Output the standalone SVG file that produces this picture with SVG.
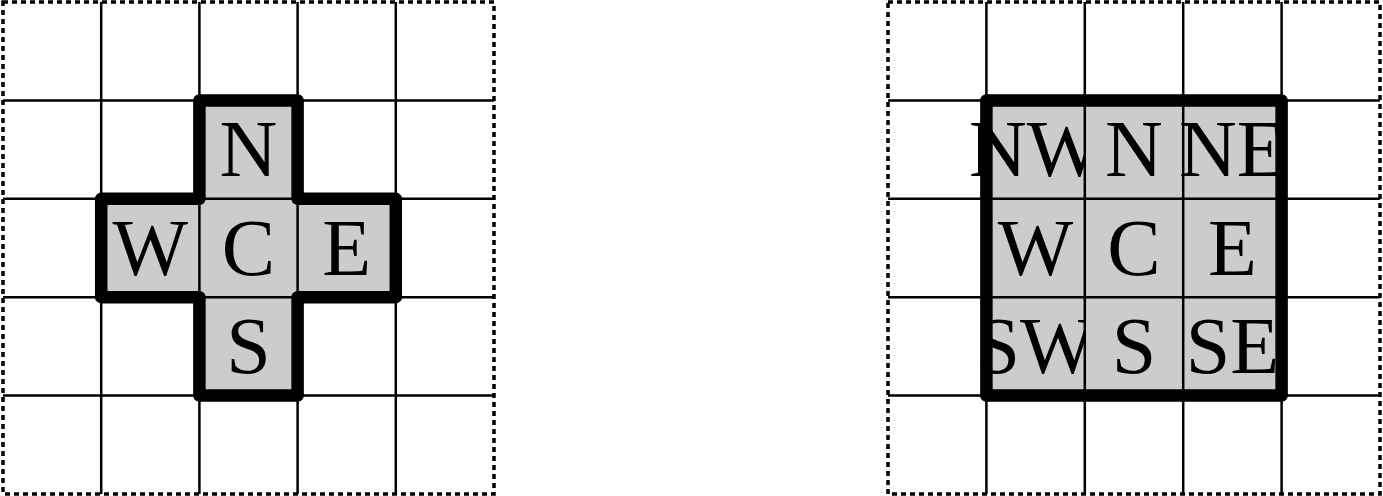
<svg xmlns="http://www.w3.org/2000/svg" width="1383" height="496" viewBox="0 0 1383 496">
<style>
.cell{fill:#cccccc;stroke:none}
.lbl{font-family:"Liberation Serif","Times New Roman",serif;font-size:80px;fill:#000;text-anchor:middle}
.grid{stroke:#000;stroke-width:2.5;fill:none}
.outer{stroke:#000;stroke-width:3.5;fill:none;stroke-dasharray:5 4}
.thick{stroke:#000;stroke-width:12.5;fill:none;stroke-linejoin:round}
</style>
<rect width="1383" height="496" fill="#fff"/>
<!-- Left: 4-neighbourhood -->
<g id="left">
<g id="L-N"><rect class="cell" x="199.4" y="100.4" width="98.2" height="98.4"/><text class="lbl" x="248.5" y="176">N</text></g>
<g id="L-W"><rect class="cell" x="101.2" y="198.8" width="98.2" height="98.4"/><text class="lbl" x="150.3" y="274.5">W</text></g>
<g id="L-C"><rect class="cell" x="199.4" y="198.8" width="98.2" height="98.4"/><text class="lbl" x="248.5" y="274.5">C</text></g>
<g id="L-E"><rect class="cell" x="297.6" y="198.8" width="98.2" height="98.4"/><text class="lbl" x="346.7" y="274.5">E</text></g>
<g id="L-S"><rect class="cell" x="199.4" y="297.2" width="98.2" height="98.4"/><text class="lbl" x="248.5" y="373">S</text></g>
<g id="L-grid">
<path class="grid" d="M101.2,2V494M199.4,2V494M297.6,2V494M395.8,2V494M3,100.4H494M3,198.8H494M3,297.2H494M3,395.6H494"/>
<rect class="outer" x="3" y="2" width="491" height="492"/>
</g>
<path id="L-outline" class="thick" d="M199.4,100.4H297.6V198.8H395.8V297.2H297.6V395.6H199.4V297.2H101.2V198.8H199.4Z"/>
</g>
<!-- Right: 8-neighbourhood -->
<g id="right">
<g id="R-NW"><rect class="cell" x="986.4" y="100.4" width="98.4" height="98.4"/><text class="lbl" x="1035.6" y="176">NW</text></g>
<g id="R-N"><rect class="cell" x="1084.8" y="100.4" width="98.4" height="98.4"/><text class="lbl" x="1134" y="176">N</text></g>
<g id="R-NE"><rect class="cell" x="1183.2" y="100.4" width="98.4" height="98.4"/><text class="lbl" x="1232.4" y="176">NE</text></g>
<g id="R-W"><rect class="cell" x="986.4" y="198.8" width="98.4" height="98.4"/><text class="lbl" x="1035.6" y="274.5">W</text></g>
<g id="R-C"><rect class="cell" x="1084.8" y="198.8" width="98.4" height="98.4"/><text class="lbl" x="1134" y="274.5">C</text></g>
<g id="R-E"><rect class="cell" x="1183.2" y="198.8" width="98.4" height="98.4"/><text class="lbl" x="1232.4" y="274.5">E</text></g>
<g id="R-SW"><rect class="cell" x="986.4" y="297.2" width="98.4" height="98.4"/><text class="lbl" x="1035.6" y="373">SW</text></g>
<g id="R-S"><rect class="cell" x="1084.8" y="297.2" width="98.4" height="98.4"/><text class="lbl" x="1134" y="373">S</text></g>
<g id="R-SE"><rect class="cell" x="1183.2" y="297.2" width="98.4" height="98.4"/><text class="lbl" x="1232.4" y="373">SE</text></g>
<g id="R-grid">
<path class="grid" d="M986.4,2V494M1084.8,2V494M1183.2,2V494M1281.6,2V494M888,100.4H1380M888,198.8H1380M888,297.2H1380M888,395.6H1380"/>
<rect class="outer" x="888" y="2" width="492" height="492"/>
</g>
<rect id="R-outline" class="thick" x="986.4" y="100.4" width="295.2" height="295.2"/>
</g>
</svg>
